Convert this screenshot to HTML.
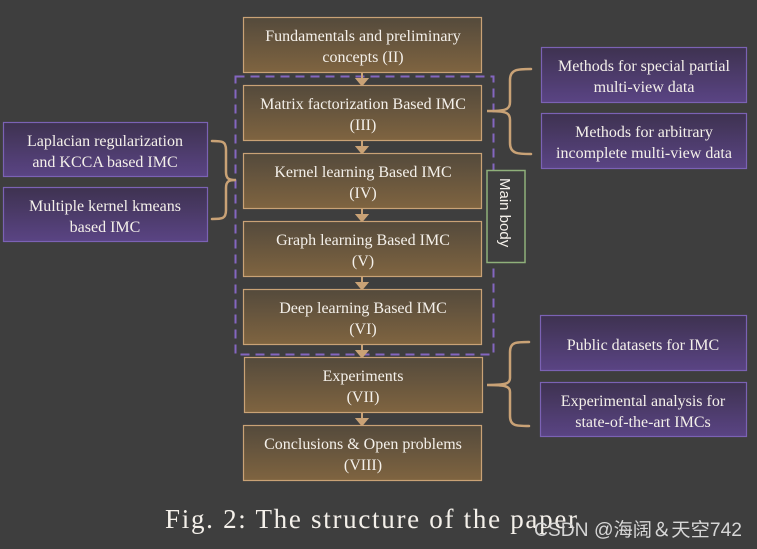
<!DOCTYPE html>
<html><head><meta charset="utf-8"><style>
html,body{margin:0;padding:0;background:#3e3e3e;}
svg{display:block;}
text{font-family:"Liberation Serif",serif;fill:#f4f0ea;}
</style></head><body>
<svg width="757" height="549" viewBox="0 0 757 549" xmlns="http://www.w3.org/2000/svg">
<defs>
<linearGradient id="g" x1="0" y1="0" x2="0" y2="1"><stop offset="0" stop-color="#544a3c"/><stop offset="1" stop-color="#7f6440"/></linearGradient>
<linearGradient id="p" x1="0" y1="0" x2="0" y2="1"><stop offset="0" stop-color="#3e3250"/><stop offset="1" stop-color="#5a4484"/></linearGradient>
</defs>
<rect width="757" height="549" fill="#3e3e3e"/>
<!-- dashed main body -->
<rect x="235.5" y="76.5" width="258" height="278" fill="none" stroke="#8466c0" stroke-width="2" stroke-dasharray="9,6"/>
<!-- arrows -->
<g stroke="#c9a276" stroke-width="2" fill="#c9a276">
<line x1="362" y1="72" x2="362" y2="80"/><polygon points="357,79 367,79 362,85"/>
<line x1="362" y1="140" x2="362" y2="148"/><polygon points="357,147 367,147 362,153"/>
<line x1="362" y1="208" x2="362" y2="216"/><polygon points="357,215 367,215 362,221"/>
<line x1="362" y1="276" x2="362" y2="284"/><polygon points="357,283 367,283 362,289"/>
<line x1="362" y1="344" x2="362" y2="352"/><polygon points="357,351 367,351 362,357"/>
<line x1="362" y1="412" x2="362" y2="420"/><polygon points="357,419 367,419 362,425"/>
</g>
<!-- center boxes -->
<g stroke="#c9a276" stroke-width="1.2" fill="url(#g)">
<rect x="243.5" y="17.5" width="238" height="55"/>
<rect x="243.5" y="85.5" width="238" height="55"/>
<rect x="243.5" y="153.5" width="238" height="55"/>
<rect x="243.5" y="221.5" width="238" height="55"/>
<rect x="243.5" y="289.5" width="238" height="55"/>
<rect x="244.5" y="357.5" width="238" height="55"/>
<rect x="243.5" y="425.5" width="238" height="55"/>
</g>
<g font-size="16" text-anchor="middle">
<text x="363" y="41">Fundamentals and preliminary</text><text x="363" y="62">concepts  (II)</text>
<text x="363" y="109">Matrix factorization Based IMC</text><text x="363" y="130">(III)</text>
<text x="363" y="177">Kernel learning Based IMC</text><text x="363" y="198">(IV)</text>
<text x="363" y="245">Graph learning Based IMC</text><text x="363" y="266">(V)</text>
<text x="363" y="313">Deep learning Based IMC</text><text x="363" y="334">(VI)</text>
<text x="363" y="381">Experiments</text><text x="363" y="402">(VII)</text>
<text x="363" y="449">Conclusions  &amp; Open problems</text><text x="363" y="470">(VIII)</text>
</g>
<!-- main body label -->
<rect x="487" y="170.5" width="38" height="92" fill="#3e3e3e" stroke="#8fb07a" stroke-width="1.5"/>
<text x="0" y="0" transform="translate(500,178) rotate(90)" font-family="Liberation Sans,sans-serif" font-size="15" style="font-family:'Liberation Sans',sans-serif">Main body</text>
<!-- purple boxes -->
<g stroke="#7b62b4" stroke-width="1.2" fill="url(#p)">
<rect x="3.5" y="122.5" width="204" height="54"/>
<rect x="3.5" y="187.5" width="204" height="54"/>
<rect x="541.5" y="47.5" width="205" height="55"/>
<rect x="541.5" y="113.5" width="205" height="55"/>
<rect x="540.5" y="315.5" width="206" height="55"/>
<rect x="540.5" y="382.5" width="206" height="54"/>
</g>
<g font-size="16" text-anchor="middle">
<text x="105" y="146">Laplacian regularization</text><text x="105" y="167">and KCCA based IMC</text>
<text x="105" y="211">Multiple kernel kmeans</text><text x="105" y="232">based IMC</text>
<text x="644" y="71">Methods for special partial</text><text x="644" y="92">multi-view data</text>
<text x="644" y="137">Methods for arbitrary</text><text x="644" y="158">incomplete multi-view data</text>
<text x="643" y="350">Public datasets for IMC</text>
<text x="643" y="406">Experimental analysis for</text><text x="643" y="427">state-of-the-art IMCs</text>
</g>
<!-- braces -->
<g fill="none" stroke="#c9a276" stroke-width="2.5" stroke-linecap="round">
<path d="M531,69 C518,69 510,69 510,80 L510,102 C510,110 505,111 487,111 C505,111 510,112 510,120 L510,143 C510,154 518,154 531,154"/>
<path d="M212,141 C222,141 226,141 226,150 L226,172 C226,179 229,180 236,180 C229,180 226,181 226,188 L226,210 C226,219 222,219 212,219"/>
<path d="M529,342 C516,342 510,342 510,352 L510,378 C510,384 505,385 487,385 C505,385 510,386 510,392 L510,416 C510,426 516,426 529,426"/>
</g>
<!-- caption -->
<text x="165" y="528" font-size="27" textLength="412" lengthAdjust="spacing">Fig. 2: The structure of the paper</text>
<text x="534" y="536" font-size="19" fill="#d8d8d8" style="font-family:'Liberation Sans','Noto Sans CJK SC',sans-serif;fill:#d6d6d6" textLength="208" lengthAdjust="spacingAndGlyphs">CSDN @海阔＆天空742</text>
</svg>
</body></html>
